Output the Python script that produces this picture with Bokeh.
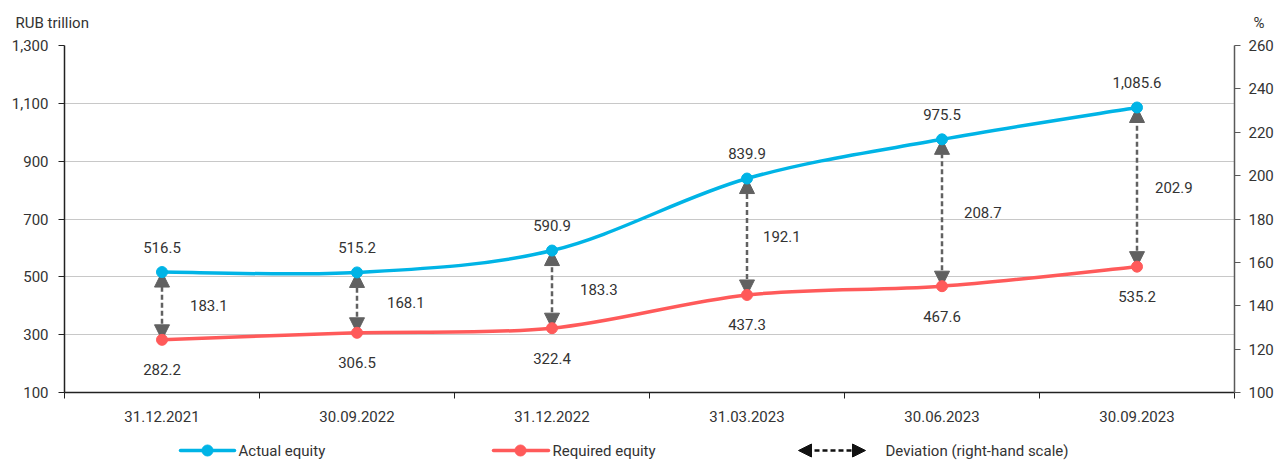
from bokeh.plotting import figure
from bokeh.models import (Range1d, LinearAxis, FixedTicker, NumeralTickFormatter, Arrow,
                          NormalHead, ColumnDataSource)
from bokeh.layouts import column, row
from bokeh.embed import file_html
from bokeh.resources import INLINE
from bokeh.core.properties import value

categories = ["31.12.2021", "30.09.2022", "31.12.2022", "31.03.2023", "30.06.2023", "30.09.2023"]
actual = [516.5, 515.2, 590.9, 839.9, 975.5, 1085.6]
required = [282.2, 306.5, 322.4, 437.3, 467.6, 535.2]
deviation = [183.1, 168.1, 183.3, 192.1, 208.7, 202.9]
left_ticks = [100, 300, 500, 700, 900, 1100, 1300]
right_ticks = [100, 120, 140, 160, 180, 200, 220, 240, 260]
left_title = "RUB trillion"
right_title = "%"
legend_labels = ["Actual equity", "Required equity", "Deviation (right-hand scale)"]

# style
FONT = "Roboto"
FS = "15px"
CYAN = "#00B4E6"
RED = "#FF5A5A"
GREY = "#616161"
TXT = "#333333"
W = 1287
dev_label_offsets = [28, 30, 28, 16, 22, 18]

xs = [i + 0.5 for i in range(len(categories))]


def bezier_segments(x, y, t=1.0 / 6.0):
    n = len(x)
    d = dict(x0=[], y0=[], x1=[], y1=[], cx0=[], cy0=[], cx1=[], cy1=[])
    for i in range(n - 1):
        a = max(i - 1, 0)
        b = min(i + 2, n - 1)
        d["x0"].append(x[i]); d["y0"].append(y[i])
        d["x1"].append(x[i + 1]); d["y1"].append(y[i + 1])
        d["cx0"].append(x[i] + (x[i + 1] - x[a]) * t)
        d["cy0"].append(y[i] + (y[i + 1] - y[a]) * t)
        d["cx1"].append(x[i + 1] - (x[b] - x[i]) * t)
        d["cy1"].append(y[i + 1] - (y[b] - y[i]) * t)
    return d


def strip(height):
    f = figure(width=W, height=height, x_range=Range1d(0, W), y_range=Range1d(height, 0),
               output_backend="svg", toolbar_location=None, min_border=0,
               x_axis_location=None, y_axis_location=None)
    f.outline_line_color = None
    f.grid.visible = False
    return f


# top strip with axis titles
top = strip(35)
top.text([15, 1253], [22, 22], text=[left_title, right_title], text_align="left",
         text_baseline="middle", text_font=value(FONT), text_font_size="15px", text_color=TXT)

p = figure(width=W, height=397, x_range=Range1d(0, len(categories)),
           y_range=Range1d(left_ticks[0], left_ticks[-1]),
           output_backend="svg", toolbar_location=None,
           min_border_left=64, min_border_right=53, min_border_top=10, min_border_bottom=40)
p.outline_line_color = None
p.xgrid.visible = False
p.ygrid.ticker = FixedTicker(ticks=left_ticks)
p.ygrid.grid_line_color = "#C8C8C8"
p.ygrid.grid_line_width = 1

p.extra_y_ranges = {"right": Range1d(right_ticks[0], right_ticks[-1])}

# x axis
xa = p.xaxis[0]
xa.ticker = FixedTicker(ticks=xs, minor_ticks=list(range(len(categories) + 1)))
xa.major_label_overrides = {x: c for x, c in zip(xs, categories)}
xa.major_tick_out = 0
xa.major_tick_in = 0
xa.minor_tick_out = 6
xa.minor_tick_in = 0
xa.minor_tick_line_color = "#222222"
xa.axis_line_color = "#222222"
xa.axis_line_width = 1.5
xa.major_label_standoff = 12
xa.major_label_text_font = FONT
xa.major_label_text_font_size = FS
xa.major_label_text_color = TXT

ya = p.yaxis[0]
ya.ticker = FixedTicker(ticks=left_ticks)
ya.formatter = NumeralTickFormatter(format="0,0")
ya.major_tick_out = 6
ya.major_tick_in = 0
ya.minor_tick_out = 0
ya.axis_line_color = "#222222"
ya.axis_line_width = 1.5
ya.major_tick_line_color = "#222222"
ya.major_label_standoff = 10
ya.major_label_text_font = FONT
ya.major_label_text_font_size = FS
ya.major_label_text_color = TXT

ra = LinearAxis(y_range_name="right", ticker=FixedTicker(ticks=right_ticks))
ra.major_tick_out = 6
ra.major_tick_in = 0
ra.minor_tick_out = 0
ra.axis_line_color = "#595959"
ra.axis_line_width = 1.5
ra.major_tick_line_color = "#595959"
ra.major_label_standoff = 8
ra.major_label_text_font = FONT
ra.major_label_text_font_size = FS
ra.major_label_text_color = TXT
p.add_layout(ra, "right")

# deviation arrows
arrow_src = ColumnDataSource(dict(x=xs, y0=required, y1=actual))
head = dict(size=15, fill_color=GREY, line_color=GREY, line_width=1)
p.add_layout(Arrow(start=NormalHead(**head), end=NormalHead(**head),
                   x_start="x", y_start="y0", x_end="x", y_end="y1", source=arrow_src,
                   line_color=GREY, line_width=2.5, line_dash="5 3", level="underlay"))

# smoothed lines
for ys, col in ((actual, CYAN), (required, RED)):
    seg = ColumnDataSource(bezier_segments(xs, ys))
    p.bezier(x0="x0", y0="y0", x1="x1", y1="y1", cx0="cx0", cy0="cy0", cx1="cx1", cy1="cy1",
             source=seg, line_color=col, line_width=3.5, line_cap="round")
    p.scatter(xs, ys, size=11, fill_color=col, line_color=col, marker="circle")

# value labels
p.text(xs, actual, text=[f"{v:,.1f}" for v in actual], y_offset=-25,
       text_align="center", text_baseline="middle", text_font=value(FONT),
       text_font_size=FS, text_color=TXT)
p.text(xs, required, text=[f"{v:,.1f}" for v in required], y_offset=30,
       text_align="center", text_baseline="middle", text_font=value(FONT),
       text_font_size=FS, text_color=TXT)
dev_src = ColumnDataSource(dict(x=xs, y=[(a + r) / 2 for a, r in zip(actual, required)],
                                t=[f"{v:,.1f}" for v in deviation], off=dev_label_offsets))
p.text(x="x", y="y", text="t", x_offset="off", source=dev_src,
       text_align="left", text_baseline="middle", text_font=value(FONT),
       text_font_size=FS, text_color=TXT)

# legend strip
leg = strip(28)
LY = 18
leg.segment(x0=[180, 493], y0=[LY, LY], x1=[234, 548], y1=[LY, LY],
            line_color=[CYAN, RED], line_width=3.5, line_cap="round")
leg.scatter([207, 520], [LY, LY], size=11, fill_color=[CYAN, RED], line_color=[CYAN, RED])
lhead = dict(size=13, fill_color="#111111", line_color="#111111", line_width=1)
leg.add_layout(Arrow(start=NormalHead(**lhead), end=NormalHead(**lhead),
                     x_start=798, y_start=LY, x_end=865, y_end=LY,
                     line_color="#111111", line_width=2.5, line_dash="5 3"))
leg.text([238, 552, 885], [LY, LY, LY], text=legend_labels,
         text_align="left", text_baseline="middle", text_font=value(FONT),
         text_font_size=FS, text_color=TXT)

layout = column(row(top), p, row(leg))
open("out.html", "w").write(file_html(layout, INLINE))
